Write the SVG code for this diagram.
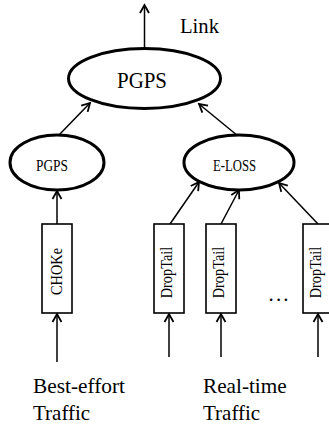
<svg xmlns="http://www.w3.org/2000/svg" width="329" height="425" viewBox="0 0 329 425">
<defs>
<marker id="ah" markerWidth="12" markerHeight="12" refX="10" refY="6" orient="auto" markerUnits="userSpaceOnUse">
<path d="M2,1.5 L10,6 L2,10.5" fill="none" stroke="#000" stroke-width="1.8"/>
</marker>
<style>
.e{fill:#fff;stroke:#000;stroke-width:3}
.b{fill:#fff;stroke:#000;stroke-width:1.6}
.c{stroke:#000;stroke-width:1.5;fill:none;marker-end:url(#ah)}
text{font-family:"Liberation Serif","Times New Roman",serif;fill:#000}
</style>
</defs>
<rect width="329" height="425" fill="#fff"/>
<g id="connectors">
<line class="c" x1="144.5" y1="48" x2="144.5" y2="5"/>
<line class="c" x1="58" y1="136" x2="90" y2="103"/>
<line class="c" x1="238" y1="136" x2="199" y2="104"/>
<line class="c" x1="57" y1="224" x2="57" y2="191"/>
<line class="c" x1="170" y1="224" x2="199" y2="182"/>
<line class="c" x1="221" y1="224" x2="239" y2="190"/>
<line class="c" x1="318" y1="224" x2="279" y2="183"/>
<line class="c" x1="57" y1="362" x2="57" y2="314"/>
<line class="c" x1="169" y1="357" x2="169" y2="314"/>
<line class="c" x1="221" y1="357" x2="221" y2="314"/>
<line class="c" x1="318" y1="357" x2="318" y2="314"/>
</g>
<g id="link-label"><text x="180" y="33" font-size="21" textLength="39" lengthAdjust="spacingAndGlyphs">Link</text></g>
<g id="pgps-top">
<ellipse class="e" cx="144.5" cy="78.5" rx="76" ry="30"/>
<text x="142" y="88" font-size="24" text-anchor="middle" textLength="50" lengthAdjust="spacingAndGlyphs">PGPS</text>
</g>
<g id="pgps-left">
<ellipse class="e" cx="57" cy="162.5" rx="47" ry="27.5"/>
<text x="52" y="171" font-size="17" text-anchor="middle" textLength="32" lengthAdjust="spacingAndGlyphs">PGPS</text>
</g>
<g id="eloss">
<ellipse class="e" cx="239" cy="162.5" rx="55" ry="27.5"/>
<text x="234.5" y="171" font-size="17" text-anchor="middle" textLength="43" lengthAdjust="spacingAndGlyphs">E-LOSS</text>
</g>
<g id="choke">
<rect class="b" x="42" y="224" width="30" height="89"/>
<text transform="translate(62,271.5) rotate(-90)" font-size="17" text-anchor="middle" textLength="47" lengthAdjust="spacingAndGlyphs">CHOKe</text>
</g>
<g id="droptail1">
<rect class="b" x="154" y="224" width="30" height="89"/>
<text transform="translate(171.5,272.5) rotate(-90)" font-size="16" text-anchor="middle" textLength="51.6" lengthAdjust="spacingAndGlyphs">DropTail</text>
</g>
<g id="droptail2">
<rect class="b" x="206" y="224" width="30" height="89"/>
<text transform="translate(223.5,272.5) rotate(-90)" font-size="16" text-anchor="middle" textLength="51.6" lengthAdjust="spacingAndGlyphs">DropTail</text>
</g>
<g id="droptail3">
<rect class="b" x="303" y="224" width="30" height="89"/>
<text transform="translate(321,272.5) rotate(-90)" font-size="16" text-anchor="middle" textLength="51.6" lengthAdjust="spacingAndGlyphs">DropTail</text>
</g>
<g id="dots"><text x="268.5" y="301" font-size="21" textLength="20" lengthAdjust="spacing">...</text></g>
<g id="best-effort">
<text x="33" y="393" font-size="21" textLength="92" lengthAdjust="spacingAndGlyphs">Best-effort</text>
<text x="33" y="420" font-size="21">Traffic</text>
</g>
<g id="real-time">
<text x="203" y="393" font-size="21" textLength="83.7" lengthAdjust="spacingAndGlyphs">Real-time</text>
<text x="203" y="420" font-size="21">Traffic</text>
</g>
</svg>
